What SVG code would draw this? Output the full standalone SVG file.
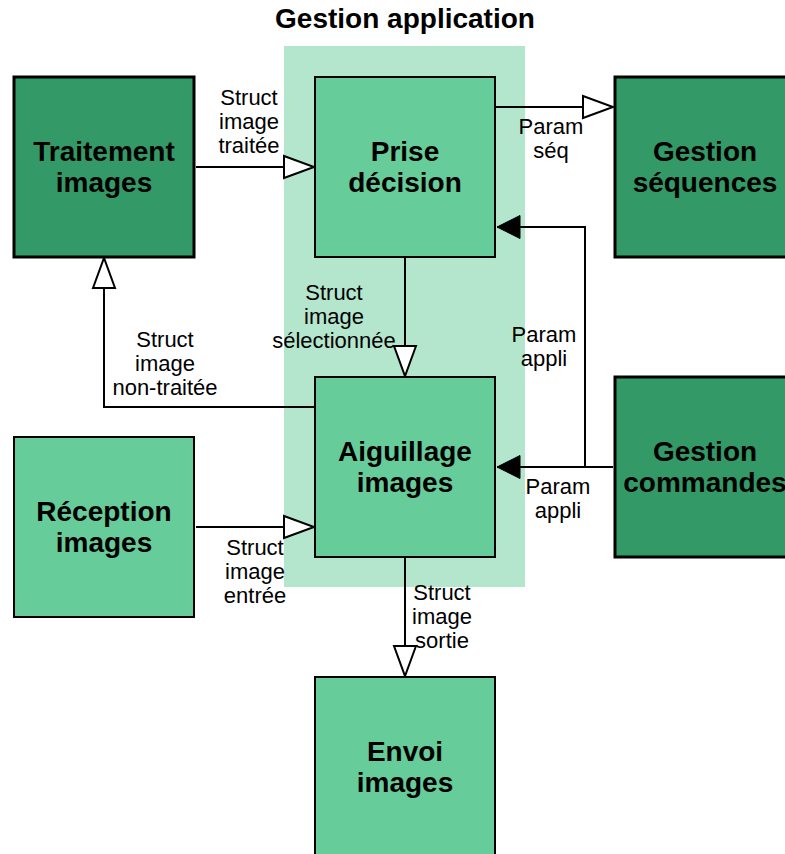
<svg xmlns="http://www.w3.org/2000/svg" width="785" height="854" viewBox="0 0 785 854">
<style>
.dark{fill:#339966;stroke:#000;stroke-width:3}
.light{fill:#66cc99;stroke:#000;stroke-width:2}
.nt{font-family:"Liberation Sans",Arial,sans-serif;font-weight:bold;font-size:28px;text-anchor:middle;fill:#000}
.lb{font-family:"Liberation Sans",Arial,sans-serif;font-size:22px;text-anchor:middle;fill:#000}
.ln{fill:none;stroke:#000;stroke-width:2}
</style>
<defs>
<marker id="open" markerUnits="userSpaceOnUse" markerWidth="36" markerHeight="28" viewBox="-2 -14 36 28" refX="30" refY="0" orient="auto"><path d="M0,-11L30,0L0,11Z" fill="#fff" stroke="#000" stroke-width="2"/></marker>
<marker id="solid" markerUnits="userSpaceOnUse" markerWidth="28" markerHeight="28" viewBox="-2 -14 28 28" refX="23" refY="0" orient="auto"><path d="M0,-11.5L23,0L0,11.5Z" fill="#000" stroke="#000" stroke-width="1"/></marker>
</defs>
<rect width="785" height="854" fill="#fff"/>
<rect id="bg-application" x="284" y="46" width="241" height="541" fill="#b3e6cc"/>
<text class="nt" x="405" y="28">Gestion application</text>

<g id="connectors">
<path class="ln" d="M196,167H314" marker-end="url(#open)"/>
<path class="ln" d="M496,107H613" marker-end="url(#open)"/>
<path class="ln" d="M405,258V376" marker-end="url(#open)"/>
<path class="ln" d="M314,407H104V258" marker-end="url(#open)"/>
<path class="ln" d="M196,527H314" marker-end="url(#open)"/>
<path class="ln" d="M405,558V676" marker-end="url(#open)"/>
<path class="ln" d="M613,467H497" marker-end="url(#solid)"/>
<path class="ln" d="M585,467V227H497" marker-end="url(#solid)"/>
<text class="lb"><tspan x="249" y="105">Struct</tspan><tspan x="249" y="129">image</tspan><tspan x="249" y="153">traitée</tspan></text>
<text class="lb"><tspan x="551" y="134">Param</tspan><tspan x="551" y="158">séq</tspan></text>
<text class="lb"><tspan x="334" y="300">Struct</tspan><tspan x="334" y="324">image</tspan><tspan x="334" y="348">sélectionnée</tspan></text>
<text class="lb"><tspan x="544" y="342">Param</tspan><tspan x="544" y="366">appli</tspan></text>
<text class="lb"><tspan x="165" y="347">Struct</tspan><tspan x="165" y="371">image</tspan><tspan x="165" y="395">non-traitée</tspan></text>
<text class="lb"><tspan x="558" y="494">Param</tspan><tspan x="558" y="518">appli</tspan></text>
<text class="lb"><tspan x="255" y="555">Struct</tspan><tspan x="255" y="579">image</tspan><tspan x="255" y="603">entrée</tspan></text>
<text class="lb"><tspan x="442" y="600">Struct</tspan><tspan x="442" y="624">image</tspan><tspan x="442" y="648">sortie</tspan></text>
</g>

<g id="node-traitement"><rect class="dark" x="14" y="77" width="180" height="180"/><text class="nt"><tspan x="104" y="161">Traitement</tspan><tspan x="104" y="192">images</tspan></text></g>
<g id="node-prise"><rect class="light" x="315" y="77" width="180" height="180"/><text class="nt"><tspan x="405" y="161">Prise</tspan><tspan x="405" y="192">décision</tspan></text></g>
<g id="node-sequences"><rect class="dark" x="615" y="77" width="180" height="180"/><text class="nt"><tspan x="705" y="161">Gestion</tspan><tspan x="705" y="192">séquences</tspan></text></g>
<g id="node-aiguillage"><rect class="light" x="315" y="377" width="180" height="180"/><text class="nt"><tspan x="405" y="461">Aiguillage</tspan><tspan x="405" y="492">images</tspan></text></g>
<g id="node-reception"><rect class="light" x="14" y="437" width="180" height="180"/><text class="nt"><tspan x="104" y="521">Réception</tspan><tspan x="104" y="552">images</tspan></text></g>
<g id="node-commandes"><rect class="dark" x="615" y="377" width="180" height="180"/><text class="nt"><tspan x="705" y="461">Gestion</tspan><tspan x="705" y="492">commandes</tspan></text></g>
<g id="node-envoi"><rect class="light" x="315" y="677" width="180" height="180"/><text class="nt"><tspan x="405" y="761">Envoi</tspan><tspan x="405" y="792">images</tspan></text></g>
</svg>
